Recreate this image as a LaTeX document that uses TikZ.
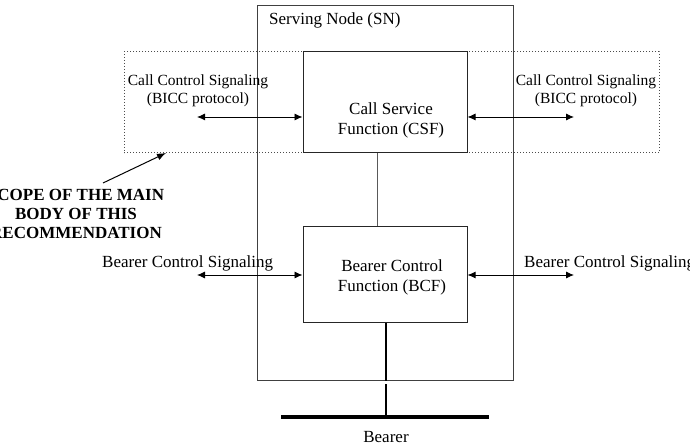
\documentclass[tikz,border=0pt]{standalone}
\usepackage{fontspec}
\setmainfont{Liberation Serif}
\usetikzlibrary{arrows.meta}
\begin{document}
\begin{tikzpicture}[x=1pt,y=-1pt,
  every node/.style={font=\fontsize{17}{19.5}\selectfont, inner sep=0pt},
  box/.style={draw=black!85, line width=1pt, minimum width=#1},
  lbl/.style={align=center},
  small/.style={font=\fontsize{15.5}{18}\selectfont},
  biarrow/.style={{Latex[length=8pt,width=7pt]}-{Latex[length=8pt,width=7pt]}, line width=0.9pt},
  thickline/.style={line width=2.2pt}
]
\useasboundingbox (0,0) rectangle (690,446);
% dotted scope box
\node[draw=black!70, dotted, line width=1pt, minimum width=535pt, minimum height=101pt] (scope) at (391.5,102.5) {};
% serving node
\node[box=256pt, draw=black!75, minimum height=374pt] (SN) at (385,193) {};
\node[anchor=west] (SNlbl) at (269,20) {Serving Node (SN)};
% CSF
\node[box=164pt, minimum height=101pt] (CSF) at (385,102.5) {};
\node[lbl] (CSFt) at (391,120.5) {Call Service\\Function (CSF)};
% BCF
\node[box=164pt, minimum height=95pt] (BCF) at (385,274.5) {};
\node[lbl] (BCFt) at (392,277.5) {Bearer Control\\Function (BCF)};
% CSF-BCF link
\draw[black!65, line width=1pt] (CSF.south -| 377,0) coordinate (csfb) -- (csfb |- BCF.north);
% call control signaling
\node[lbl, small] (ccl) at (198,91) {Call Control Signaling\\(BICC protocol)};
\node[lbl, small] (ccr) at (586,91) {Call Control Signaling\\(BICC protocol)};
\coordinate (cl) at (197,117);
\coordinate (cr) at (574,117);
\draw[biarrow] (cl) -- (cl -| CSF.west);
\draw[biarrow] (cr -| CSF.east) -- (cr);
% bearer control signaling
\node[anchor=west] (bcl) at (102,263) {Bearer Control Signaling};
\node[anchor=west] (bcr) at (524,263) {Bearer Control Signaling};
\coordinate (bl) at (197,275);
\coordinate (br) at (574,275);
\draw[biarrow] (bl) -- (bl -| BCF.west);
\draw[biarrow] (br -| BCF.east) -- (br);
% bearer
\coordinate (bearL) at (281,417);
\coordinate (bearR) at (489,417);
\coordinate (bearM) at (386,417);
\coordinate (gapTop) at (386,384);
\draw[line width=3.5pt] (bearL) -- (bearR);
\draw[thickline] (BCF.south -| bearM) -- (bearM |- SN.south);
\draw[thickline] (gapTop) -- (bearM);
\node (bearer) at (386,437) {Bearer};
% scope label
\node[lbl, font=\fontsize{17}{19}\selectfont\bfseries] (scopelbl) at (76,214) {SCOPE OF THE MAIN\\BODY OF THIS\\RECOMMENDATION};
\coordinate (scopearr) at (103,183);
\draw[-{Latex[length=9pt,width=7pt]}, line width=1pt] (scopearr) -- (166,153) coordinate (scopetip);
\end{tikzpicture}
\end{document}
